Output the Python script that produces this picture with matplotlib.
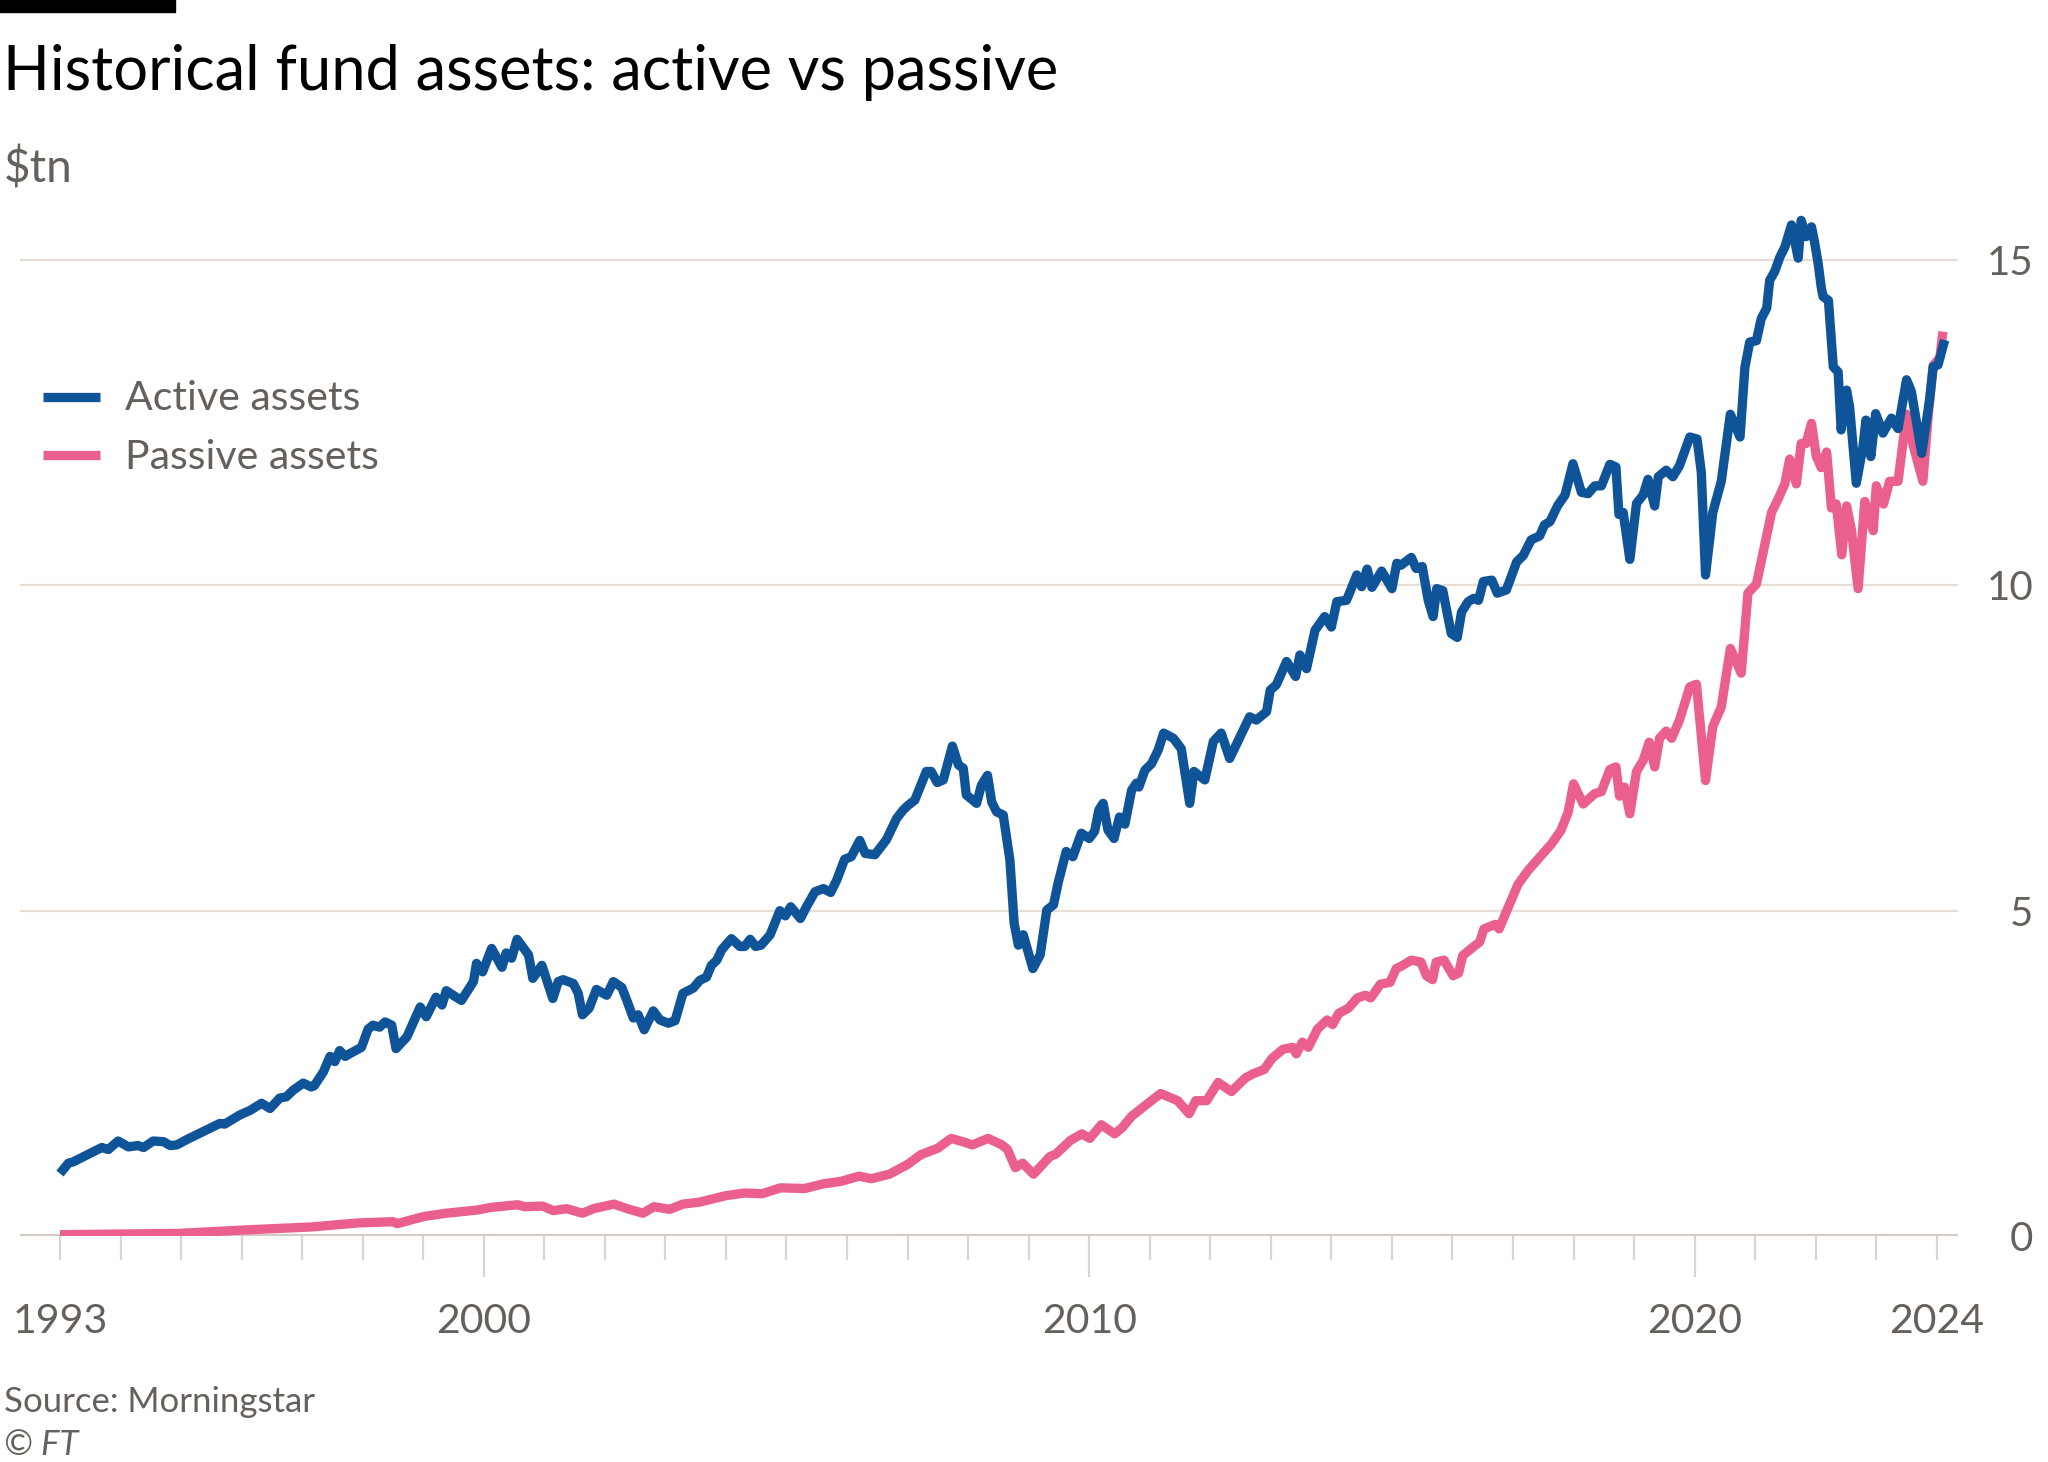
import matplotlib
matplotlib.use("Agg")
import matplotlib.pyplot as plt
from matplotlib.lines import Line2D
import numpy as np

# ---------------- data (decimal years, $tn) ----------------
active_t = [1993.00, 1993.14, 1993.22, 1993.39, 1993.50, 1993.58, 1993.69, 1993.80, 1993.96, 1994.13,
            1994.29, 1994.38, 1994.54, 1994.71, 1994.82, 1994.93, 1995.09, 1995.31, 1995.64, 1995.72,
            1995.97, 1996.14, 1996.33, 1996.47, 1996.63, 1996.74, 1996.85, 1997.02, 1997.15, 1997.20,
            1997.35, 1997.46, 1997.54, 1997.62, 1997.71, 1997.84, 1997.98, 1998.09, 1998.17, 1998.28,
            1998.37, 1998.48, 1998.55, 1998.73, 1998.95, 1999.05, 1999.21, 1999.31, 1999.38, 1999.63,
            1999.83, 1999.88, 1999.98, 2000.13, 2000.30, 2000.37, 2000.46, 2000.55, 2000.74, 2000.81,
            2000.96, 2001.14, 2001.23, 2001.31, 2001.48, 2001.56, 2001.63, 2001.74, 2001.86, 2002.03,
            2002.14, 2002.28, 2002.36, 2002.47, 2002.55, 2002.65, 2002.80, 2002.91, 2003.05, 2003.16,
            2003.29, 2003.46, 2003.57, 2003.68, 2003.76, 2003.85, 2003.93, 2004.09, 2004.23, 2004.31,
            2004.40, 2004.49, 2004.58, 2004.73, 2004.89, 2004.98, 2005.07, 2005.23, 2005.33, 2005.47,
            2005.61, 2005.73, 2005.83, 2005.96, 2006.07, 2006.21, 2006.30, 2006.46, 2006.65, 2006.82,
            2006.93, 2007.01, 2007.12, 2007.31, 2007.39, 2007.49, 2007.59, 2007.74, 2007.84, 2007.92,
            2007.97, 2008.14, 2008.22, 2008.32, 2008.39, 2008.47, 2008.58, 2008.69, 2008.76, 2008.83,
            2008.91, 2009.07, 2009.19, 2009.30, 2009.41, 2009.49, 2009.62, 2009.73, 2009.87, 2010.00,
            2010.09, 2010.16, 2010.23, 2010.31, 2010.41, 2010.50, 2010.59, 2010.70, 2010.78, 2010.82,
            2010.92, 2011.03, 2011.14, 2011.23, 2011.39, 2011.52, 2011.66, 2011.73, 2011.91, 2012.05,
            2012.18, 2012.32, 2012.49, 2012.65, 2012.76, 2012.93, 2012.99, 2013.09, 2013.26, 2013.41,
            2013.48, 2013.59, 2013.73, 2013.89, 2014.00, 2014.09, 2014.25, 2014.42, 2014.50, 2014.59,
            2014.67, 2014.83, 2015.00, 2015.08, 2015.15, 2015.32, 2015.40, 2015.50, 2015.60, 2015.68,
            2015.74, 2015.84, 2015.98, 2016.08, 2016.15, 2016.26, 2016.35, 2016.43, 2016.51, 2016.65,
            2016.74, 2016.89, 2017.06, 2017.17, 2017.30, 2017.44, 2017.52, 2017.61, 2017.74, 2017.86,
            2017.99, 2018.13, 2018.24, 2018.35, 2018.46, 2018.60, 2018.70, 2018.75, 2018.82, 2018.93,
            2019.04, 2019.15, 2019.23, 2019.34, 2019.40, 2019.53, 2019.64, 2019.75, 2019.92, 2020.04,
            2020.11, 2020.18, 2020.30, 2020.44, 2020.59, 2020.75, 2020.83, 2020.91, 2021.02, 2021.10,
            2021.19, 2021.24, 2021.32, 2021.41, 2021.49, 2021.60, 2021.71, 2021.76, 2021.84, 2021.93,
            2021.98, 2022.04, 2022.09, 2022.12, 2022.21, 2022.29, 2022.37, 2022.42, 2022.51, 2022.56,
            2022.67, 2022.78, 2022.83, 2022.91, 2022.99, 2023.11, 2023.25, 2023.36, 2023.50, 2023.58,
            2023.75, 2023.88, 2023.94, 2024.02, 2024.13]
active_v = [0.96, 1.12, 1.14, 1.22, 1.27, 1.31, 1.36, 1.33, 1.46, 1.37,
            1.39, 1.36, 1.46, 1.45, 1.39, 1.40, 1.48, 1.58, 1.73, 1.72,
            1.86, 1.93, 2.04, 1.96, 2.12, 2.14, 2.24, 2.35, 2.29, 2.31,
            2.52, 2.76, 2.68, 2.85, 2.76, 2.83, 2.90, 3.18, 3.24, 3.21,
            3.29, 3.24, 2.88, 3.06, 3.52, 3.37, 3.67, 3.55, 3.77, 3.62,
            3.91, 4.19, 4.06, 4.42, 4.13, 4.35, 4.27, 4.56, 4.32, 3.96,
            4.16, 3.65, 3.91, 3.94, 3.88, 3.73, 3.40, 3.50, 3.79, 3.70,
            3.91, 3.82, 3.63, 3.35, 3.40, 3.17, 3.46, 3.32, 3.27, 3.31,
            3.73, 3.81, 3.93, 3.98, 4.16, 4.24, 4.40, 4.57, 4.45, 4.45,
            4.56, 4.45, 4.47, 4.63, 5.00, 4.92, 5.06, 4.88, 5.06, 5.29,
            5.34, 5.28, 5.47, 5.79, 5.83, 6.08, 5.88, 5.86, 6.09, 6.42,
            6.55, 6.62, 6.70, 7.14, 7.14, 6.97, 7.01, 7.53, 7.24, 7.19,
            6.78, 6.65, 6.93, 7.08, 6.67, 6.52, 6.47, 5.78, 4.81, 4.47,
            4.63, 4.11, 4.32, 5.01, 5.09, 5.44, 5.91, 5.83, 6.19, 6.11,
            6.22, 6.55, 6.65, 6.24, 6.11, 6.44, 6.33, 6.85, 6.96, 6.90,
            7.16, 7.26, 7.47, 7.73, 7.65, 7.49, 6.65, 7.14, 7.01, 7.60,
            7.73, 7.34, 7.67, 7.98, 7.93, 8.06, 8.39, 8.47, 8.83, 8.60,
            8.93, 8.72, 9.31, 9.52, 9.36, 9.75, 9.77, 10.16, 9.98, 10.25,
            9.97, 10.22, 9.95, 10.34, 10.31, 10.43, 10.26, 10.29, 9.77, 9.52,
            9.95, 9.92, 9.26, 9.20, 9.59, 9.75, 9.80, 9.77, 10.06, 10.08,
            9.88, 9.93, 10.36, 10.46, 10.70, 10.76, 10.93, 10.98, 11.23, 11.39,
            11.87, 11.43, 11.41, 11.53, 11.53, 11.86, 11.82, 11.09, 11.12, 10.40,
            11.26, 11.39, 11.63, 11.22, 11.67, 11.77, 11.67, 11.84, 12.28, 12.25,
            11.74, 10.16, 11.12, 11.60, 12.63, 12.28, 13.35, 13.74, 13.76, 14.10,
            14.26, 14.69, 14.82, 15.05, 15.20, 15.54, 15.03, 15.61, 15.36, 15.51,
            15.28, 14.95, 14.59, 14.44, 14.38, 13.36, 13.28, 12.39, 13.00, 12.74,
            11.57, 12.13, 12.54, 11.98, 12.64, 12.34, 12.57, 12.41, 13.16, 12.98,
            12.03, 12.85, 13.36, 13.39, 13.77]

passive_t = [1993.00, 1994.00, 1994.96, 1995.99, 1997.17, 1997.91, 1998.50, 1998.57, 1999.01, 1999.38,
             1999.90, 2000.12, 2000.56, 2000.68, 2000.97, 2001.15, 2001.37, 2001.63, 2001.81, 2002.15,
             2002.37, 2002.63, 2002.81, 2003.07, 2003.29, 2003.56, 2004.00, 2004.30, 2004.60, 2004.90,
             2005.30, 2005.60, 2005.90, 2006.20, 2006.40, 2006.70, 2007.00, 2007.22, 2007.50, 2007.72,
             2007.91, 2008.07, 2008.33, 2008.49, 2008.56, 2008.65, 2008.78, 2008.90, 2009.08, 2009.35,
             2009.45, 2009.69, 2009.88, 2010.01, 2010.20, 2010.42, 2010.55, 2010.70, 2010.89, 2011.18,
             2011.46, 2011.65, 2011.76, 2011.94, 2012.13, 2012.35, 2012.58, 2012.70, 2012.89, 2013.02,
             2013.20, 2013.36, 2013.42, 2013.52, 2013.62, 2013.77, 2013.93, 2014.02, 2014.12, 2014.28,
             2014.43, 2014.56, 2014.65, 2014.81, 2014.97, 2015.07, 2015.16, 2015.32, 2015.48, 2015.57,
             2015.67, 2015.73, 2015.86, 2016.01, 2016.10, 2016.17, 2016.30, 2016.45, 2016.52, 2016.71,
             2016.77, 2016.99, 2017.08, 2017.25, 2017.44, 2017.63, 2017.79, 2017.91, 2018.00, 2018.16,
             2018.35, 2018.46, 2018.60, 2018.70, 2018.76, 2018.84, 2018.93, 2019.04, 2019.15, 2019.25,
             2019.34, 2019.42, 2019.53, 2019.62, 2019.75, 2019.92, 2020.03, 2020.11, 2020.18, 2020.30,
             2020.44, 2020.59, 2020.77, 2020.88, 2021.02, 2021.13, 2021.27, 2021.38, 2021.49, 2021.57,
             2021.68, 2021.76, 2021.84, 2021.93, 2022.01, 2022.09, 2022.18, 2022.26, 2022.34, 2022.43,
             2022.51, 2022.59, 2022.70, 2022.81, 2022.95, 2023.00, 2023.12, 2023.22, 2023.36, 2023.50,
             2023.61, 2023.77, 2023.86, 2023.94, 2024.05, 2024.10]
passive_v = [0.02, 0.03, 0.04, 0.09, 0.14, 0.20, 0.22, 0.19, 0.30, 0.35,
             0.40, 0.44, 0.48, 0.45, 0.46, 0.39, 0.42, 0.35, 0.42, 0.49,
             0.42, 0.35, 0.45, 0.41, 0.49, 0.52, 0.62, 0.66, 0.65, 0.74,
             0.73, 0.80, 0.84, 0.92, 0.88, 0.95, 1.10, 1.25, 1.35, 1.50,
             1.45, 1.40, 1.50, 1.43, 1.40, 1.33, 1.05, 1.12, 0.95, 1.22,
             1.26, 1.47, 1.57, 1.50, 1.71, 1.57, 1.67, 1.84, 1.98, 2.19,
             2.08, 1.88, 2.08, 2.08, 2.36, 2.22, 2.43, 2.49, 2.56, 2.73,
             2.87, 2.90, 2.80, 2.98, 2.90, 3.18, 3.32, 3.25, 3.42, 3.50,
             3.66, 3.70, 3.66, 3.87, 3.90, 4.11, 4.15, 4.24, 4.21, 4.00,
             3.94, 4.21, 4.24, 4.00, 4.04, 4.31, 4.41, 4.52, 4.72, 4.79,
             4.72, 5.20, 5.40, 5.62, 5.82, 6.02, 6.23, 6.51, 6.95, 6.64,
             6.80, 6.83, 7.17, 7.21, 6.76, 6.90, 6.49, 7.14, 7.31, 7.59,
             7.21, 7.65, 7.76, 7.65, 7.93, 8.44, 8.48, 7.69, 7.00, 7.83,
             8.13, 9.03, 8.65, 9.88, 10.02, 10.50, 11.12, 11.33, 11.56, 11.94,
             11.56, 12.18, 12.18, 12.49, 11.98, 11.81, 12.05, 11.19, 11.25, 10.47,
             11.22, 10.85, 9.95, 11.29, 10.84, 11.53, 11.25, 11.60, 11.60, 12.63,
             12.15, 11.60, 12.63, 13.38, 13.50, 13.90]

series_labels = ["Active assets", "Passive assets"]
y_ticks = [0, 5, 10, 15]
x_label_years = [1993, 2000, 2010, 2020, 2024]
x_major_years = [2000, 2010, 2020]

title = "Historical fund assets: active vs passive"
unit = "$tn"
source = "Source: Morningstar"
credit = "© FT"

# ---------------- style ----------------
BLUE = "#0f5499"
PINK = "#eb5f8d"
GRID = "#e6ddd5"
ZERO = "#d5cbc2"
TICKC = "#dcd4cd"
TXT = "#66605c"
FONT = ["Lato", "DejaVu Sans"]
plt.rcParams["font.family"] = FONT

W, H = 2048, 1462
fig = plt.figure(figsize=(W / 100, H / 100), dpi=100)
fig.patch.set_facecolor("white")

def fx(px):
    return px / W

def fy(py):
    return 1 - py / H

ax_left, ax_right, ax_top, ax_bot = 20, 1958, 195, 1236
ax = fig.add_axes([fx(ax_left), fy(ax_bot), (ax_right - ax_left) / W, (ax_bot - ax_top) / H])
ax.set_facecolor("none")

x_min, x_max = 1992.34, 2024.35
ax.set_xlim(x_min, x_max)
ax.set_ylim(0, 16)

LW = 6.7
# grid lines
for yv in y_ticks[1:]:
    ax.axhline(yv, color=GRID, lw=1.6, zorder=1)
ax.axhline(0, color=ZERO, lw=3.0, zorder=1)

lp, = ax.plot(passive_t, passive_v, color=PINK, lw=LW, solid_joinstyle="round",
              solid_capstyle="butt", zorder=3, label=series_labels[1])
la, = ax.plot(active_t, active_v, color=BLUE, lw=LW, solid_joinstyle="round",
              solid_capstyle="butt", zorder=4, label=series_labels[0])

for s in ax.spines.values():
    s.set_visible(False)

# y ticks on right
ax.yaxis.tick_right()
ax.set_yticks(y_ticks)
ax.set_yticklabels([str(v) for v in y_ticks])
ax.tick_params(axis="y", length=0, pad=54, labelsize=29, labelcolor=TXT)
for lbl in ax.get_yticklabels():
    lbl.set_horizontalalignment("right")

# x ticks
ax.set_xticks(x_label_years)
ax.set_xticklabels([str(y) for y in x_label_years])
ax.set_xticks([y for y in range(1994, 2024) if y not in x_major_years], minor=True)
minor_len = 24 * 72 / 100
major_len = 41 * 72 / 100
ax.tick_params(axis="x", which="major", length=minor_len, width=1.6, color=TICKC,
               pad=(1303 - ax_bot) * 0.72 - minor_len, labelsize=29.5, labelcolor=TXT)
ax.tick_params(axis="x", which="minor", length=minor_len, width=1.6, color=TICKC)
for yr, tk in zip(x_label_years, ax.xaxis.get_major_ticks()):
    if yr in x_major_years:
        tk.tick1line.set_markersize(major_len)

# legend (manual placement)
leg_rows = [(la, 397), (lp, 455)]
for line, ypx in leg_rows:
    fig.add_artist(Line2D([fx(43), fx(100)], [fy(ypx), fy(ypx)], color=line.get_color(),
                          lw=LW, solid_capstyle="butt"))
    fig.text(fx(125), fy(ypx + 2), line.get_label(), fontsize=29.5, color=TXT,
             va="center", ha="left")

# top bar
fig.add_artist(plt.Rectangle((0, fy(12)), fx(175), 12 / H, color="black", transform=fig.transFigure))

fig.text(fx(3), fy(90), title, fontsize=44.2, color="black", va="baseline", ha="left")
fig.text(fx(4), fy(183), unit, fontsize=33, color=TXT, va="baseline", ha="left")
fig.text(fx(4), fy(1412), source, fontsize=25, color=TXT, va="baseline", ha="left")
fig.text(fx(4), fy(1455), credit, fontsize=25, color=TXT, va="baseline", ha="left", style="italic")

fig.savefig("out.png", dpi=100, facecolor="white")
